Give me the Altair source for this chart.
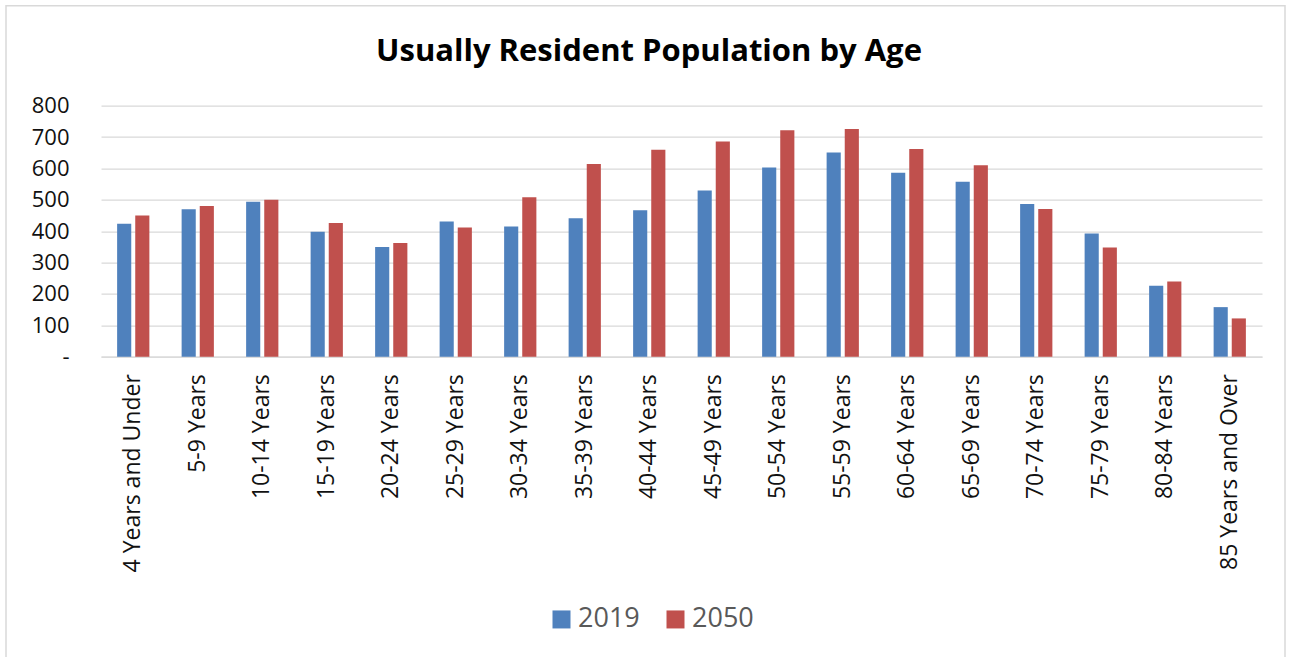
import altair as alt
import pandas as pd

# Age bands and resident population (thousands) for each year
age_groups = [
    "4 Years and Under", "5-9 Years", "10-14 Years", "15-19 Years",
    "20-24 Years", "25-29 Years", "30-34 Years", "35-39 Years",
    "40-44 Years", "45-49 Years", "50-54 Years", "55-59 Years",
    "60-64 Years", "65-69 Years", "70-74 Years", "75-79 Years",
    "80-84 Years", "85 Years and Over",
]
pop_2019 = [424, 470, 494, 398, 350, 431, 415, 441, 467, 530, 603, 651, 586, 558, 487, 393, 226, 158]
pop_2050 = [450, 480, 500, 426, 362, 412, 508, 614, 660, 686, 722, 726, 662, 610, 471, 348, 240, 122]
years = ["2019", "2050"]
year_colors = ["#4F81BD", "#C0504D"]
y_ticks = [0, 100, 200, 300, 400, 500, 600, 700, 800]

rows = []
for year, values in zip(years, [pop_2019, pop_2050]):
    for age, v in zip(age_groups, values):
        rows.append({"age": age, "year": year, "pop": v})
df = pd.DataFrame(rows)

FONT = "Open Sans"
GRID = "#D9D9D9"

bars = alt.Chart(df).mark_bar().encode(
    x=alt.X(
        "age:N",
        sort=age_groups,
        scale=alt.Scale(paddingInner=0.5, paddingOuter=0.25),
        axis=alt.Axis(
            title=None,
            labelAngle=-90,
            labelFont=FONT,
            labelFontSize=23,
            labelColor="#111111",
            labelPadding=17,
            labelLimit=400,
            ticks=False,
            grid=False,
            domainColor=GRID,
            domainWidth=1.3,
        ),
    ),
    xOffset=alt.XOffset(
        "year:N", sort=years, scale=alt.Scale(paddingInner=0.22, paddingOuter=0)
    ),
    y=alt.Y(
        "pop:Q",
        scale=alt.Scale(domain=[0, 800], nice=False),
        axis=alt.Axis(
            title=None,
            values=y_ticks,
            labelExpr="datum.value == 0 ? '-\u00a0\u00a0' : datum.label",
            labelFont=FONT,
            labelFontSize=22,
            labelColor="#111111",
            labelPadding=32,
            ticks=False,
            domain=False,
            gridColor=GRID,
            gridWidth=1.3,
        ),
    ),
    color=alt.Color(
        "year:N",
        scale=alt.Scale(domain=years, range=year_colors),
        legend=alt.Legend(
            title=None,
            orient="none",
            direction="horizontal",
            legendX=447,
            legendY=500,
            padding=0,
            symbolType="square",
            symbolSize=324,
            symbolStrokeWidth=0,
            labelFont=FONT,
            labelFontSize=27,
            labelColor="#595959",
            labelOffset=3,
            columnPadding=22,
        ),
    ),
)

# Light outline around the whole chart
frame = alt.Chart(pd.DataFrame({"f": [0]})).mark_rect(
    filled=False, stroke=GRID, strokeWidth=1.5
).encode(
    x=alt.value(-95), x2=alt.value(1184), y=alt.value(-100), y2=alt.value(600)
)

chart = alt.layer(frame, bars).properties(
    width=1161,
    height=251,
    autosize=alt.AutoSizeParams(type="none"),
    padding={"left": 101, "top": 105.7, "right": 30, "bottom": 300.3},
    title=alt.TitleParams(
        "Usually Resident Population by Age",
        font=FONT,
        fontSize=31,
        fontWeight="bold",
        color="#000000",
        anchor="middle",
        frame="group",
        baseline="alphabetic",
        offset=0,
        dy=87,
        dx=-32.5,
    ),
).configure(background="white").configure_view(stroke=None)

chart.save("out.html", embed_options={"renderer": "svg", "actions": False})
